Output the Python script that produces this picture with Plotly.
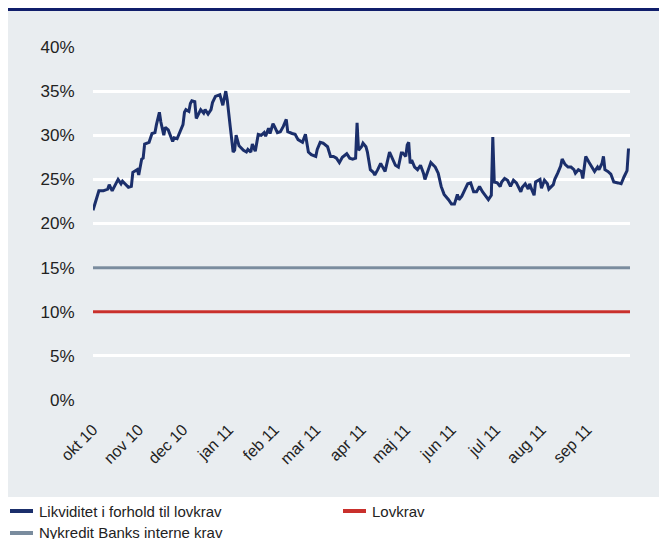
import plotly.graph_objects as go

dates = [
    "2010-10-01", "2010-10-05", "2010-10-08", "2010-10-11", "2010-10-12", "2010-10-14", "2010-10-18",
    "2010-10-20", "2010-10-21", "2010-10-25", "2010-10-27", "2010-10-28", "2010-10-31", "2010-11-01",
    "2010-11-03", "2010-11-04", "2010-11-05", "2010-11-08", "2010-11-10", "2010-11-12", "2010-11-13",
    "2010-11-15", "2010-11-16", "2010-11-18", "2010-11-19", "2010-11-21", "2010-11-24", "2010-11-25",
    "2010-11-27", "2010-11-29", "2010-11-30", "2010-12-01", "2010-12-02", "2010-12-03", "2010-12-05",
    "2010-12-06", "2010-12-07", "2010-12-09", "2010-12-10", "2010-12-13", "2010-12-15", "2010-12-16",
    "2010-12-18", "2010-12-20", "2010-12-21", "2010-12-23", "2010-12-26", "2010-12-28", "2010-12-30",
    "2010-12-31", "2011-01-02", "2011-01-04", "2011-01-05", "2011-01-06", "2011-01-08", "2011-01-09",
    "2011-01-11", "2011-01-13", "2011-01-14", "2011-01-16", "2011-01-17", "2011-01-19", "2011-01-21",
    "2011-01-23", "2011-01-25", "2011-01-26", "2011-01-28", "2011-01-29", "2011-01-31", "2011-02-01",
    "2011-02-03", "2011-02-05", "2011-02-07", "2011-02-09", "2011-02-10", "2011-02-13", "2011-02-15",
    "2011-02-17", "2011-02-18", "2011-02-20", "2011-02-22", "2011-02-24", "2011-02-26", "2011-03-01",
    "2011-03-02", "2011-03-04", "2011-03-06", "2011-03-09", "2011-03-11", "2011-03-13", "2011-03-15",
    "2011-03-17", "2011-03-19", "2011-03-22", "2011-03-24", "2011-03-26", "2011-03-28", "2011-03-29",
    "2011-03-30", "2011-04-01", "2011-04-02", "2011-04-04", "2011-04-05", "2011-04-07", "2011-04-09",
    "2011-04-10", "2011-04-12", "2011-04-14", "2011-04-15", "2011-04-17", "2011-04-20", "2011-04-22",
    "2011-04-24", "2011-04-26", "2011-04-28", "2011-04-29", "2011-05-01", "2011-05-02", "2011-05-03",
    "2011-05-04", "2011-05-05", "2011-05-07", "2011-05-09", "2011-05-11", "2011-05-13", "2011-05-14",
    "2011-05-17", "2011-05-18", "2011-05-21", "2011-05-23", "2011-05-25", "2011-05-27", "2011-05-30",
    "2011-06-01", "2011-06-03", "2011-06-05", "2011-06-06", "2011-06-08", "2011-06-10", "2011-06-12",
    "2011-06-14", "2011-06-16", "2011-06-18", "2011-06-20", "2011-06-22", "2011-06-24", "2011-06-26",
    "2011-06-28", "2011-06-29", "2011-06-30", "2011-07-02", "2011-07-04", "2011-07-05", "2011-07-07",
    "2011-07-09", "2011-07-11", "2011-07-13", "2011-07-15", "2011-07-18", "2011-07-19", "2011-07-21",
    "2011-07-23", "2011-07-24", "2011-07-25", "2011-07-27", "2011-07-28", "2011-07-31", "2011-08-01",
    "2011-08-03", "2011-08-05", "2011-08-06", "2011-08-09", "2011-08-10", "2011-08-12", "2011-08-14",
    "2011-08-15", "2011-08-17", "2011-08-19", "2011-08-21", "2011-08-23", "2011-08-24", "2011-08-26",
    "2011-08-28", "2011-08-29", "2011-08-31", "2011-09-02", "2011-09-04", "2011-09-06", "2011-09-08",
    "2011-09-09", "2011-09-11", "2011-09-12", "2011-09-13", "2011-09-15", "2011-09-17", "2011-09-19",
    "2011-09-22", "2011-09-24", "2011-09-26", "2011-09-28", "2011-09-29",
]

likviditet = [
    21.5, 23.7, 23.7, 23.9, 24.4, 23.7, 25.0,
    24.5, 24.8, 24.1, 24.2, 25.8, 26.1, 25.5,
    27.3, 27.4, 29.0, 29.2, 30.2, 30.3, 31.2,
    32.6, 31.5, 30.0, 30.9, 30.6, 29.3, 29.7,
    29.6, 30.4, 31.0, 31.2, 32.6, 32.9, 32.7,
    33.6, 33.9, 33.8, 31.9, 32.9, 32.5, 32.9,
    32.4, 32.9, 33.7, 34.4, 34.6, 33.4, 35.0,
    34.0, 31.0, 28.1, 28.3, 30.0, 28.8, 28.6,
    28.3, 28.1, 28.4, 28.1, 29.0, 28.2, 30.1,
    30.0, 30.3, 29.9, 30.8, 30.2, 31.3, 31.0,
    30.3, 30.4, 31.0, 31.8, 30.4, 30.2, 30.1,
    29.5, 29.4, 29.2, 30.1, 28.1, 27.8, 27.6,
    28.4, 29.2, 29.1, 28.7, 27.6, 27.6, 27.4,
    26.9, 27.5, 27.9, 27.4, 27.3, 27.4, 31.4,
    28.3, 28.7, 29.1, 28.7, 28.1, 26.1, 25.8,
    25.5, 26.1, 26.8, 26.5, 25.9, 28.1, 27.4,
    26.6, 26.4, 28.0, 28.0, 27.6, 28.9, 29.2,
    26.8, 27.2, 26.4, 26.1, 26.6, 25.7, 25.0,
    26.4, 26.9, 26.4, 25.7, 24.2, 23.3, 22.7,
    22.2, 22.2, 23.3, 22.7, 23.1, 23.8, 24.5,
    24.6, 23.6, 23.6, 24.2, 23.6, 23.1, 22.7,
    23.2, 29.8, 24.7, 24.6, 24.2, 24.7, 25.1,
    24.9, 24.2, 24.9, 24.6, 23.6, 24.1, 24.5,
    23.9, 24.5, 24.0, 23.2, 24.7, 25.0, 24.0,
    24.9, 24.5, 23.9, 24.4, 25.0, 25.7, 26.5,
    27.3, 26.7, 26.4, 26.4, 26.1, 25.7, 26.1,
    25.9, 25.1, 27.6, 27.0, 26.5, 25.9, 26.4,
    26.1, 26.8, 27.6, 26.1, 25.9, 25.6, 24.7,
    24.6, 24.5, 25.3, 26.0, 28.5,
]

ref_dates = ["2010-10-01", "2011-09-30"]
lovkrav = [10, 10]
interne_krav = [15, 15]

tick_dates = ["2010-10-01", "2010-11-01", "2010-12-01", "2011-01-01", "2011-02-01", "2011-03-01",
              "2011-04-01", "2011-05-01", "2011-06-01", "2011-07-01", "2011-08-01", "2011-09-01"]
tick_labels = ["okt 10", "nov 10", "dec 10", "jan 11", "feb 11", "mar 11",
               "apr 11", "maj 11", "jun 11", "jul 11", "aug 11", "sep 11"]
y_ticks = [0, 5, 10, 15, 20, 25, 30, 35, 40]
y_labels = [f"{v}%" for v in y_ticks]

series_names = ["Likviditet i forhold til lovkrav", "Lovkrav", "Nykredit Banks interne krav"]

NAVY = "#1b2f6b"
RED = "#c9302c"
SLATE = "#7a8c9e"
PANEL = "#e9edf0"
FONT = "Liberation Sans"
TEXT = "#222222"

fig = go.Figure()
fig.add_trace(go.Scatter(x=dates, y=likviditet, mode="lines", name=series_names[0],
                         line=dict(color=NAVY, width=3), showlegend=False))
fig.add_trace(go.Scatter(x=ref_dates, y=lovkrav, mode="lines", name=series_names[1],
                         line=dict(color=RED, width=3), showlegend=False))
fig.add_trace(go.Scatter(x=ref_dates, y=interne_krav, mode="lines", name=series_names[2],
                         line=dict(color=SLATE, width=3), showlegend=False))

# background panel and top rule
fig.add_shape(type="rect", xref="paper", yref="paper", x0=-0.1583, x1=1.09, y0=-0.2748, y1=1.102,
              fillcolor=PANEL, line=dict(width=0), layer="below")
fig.add_shape(type="rect", xref="paper", yref="paper", x0=-0.1583, x1=1.09, y0=1.102, y1=1.1105,
              fillcolor="#101e6b", line=dict(width=0), layer="below")

# legend drawn manually (keeps the panel geometry fixed)
legend_items = [
    (series_names[0], NAVY, -0.15456, -0.11173, -0.10428, -0.31445),
    (series_names[1], RED, 0.46555, 0.50838, 0.51583, -0.31445),
    (series_names[2], SLATE, -0.15456, -0.11173, -0.10428, -0.37677),
]
for name, color, sx0, sx1, tx, yy in legend_items:
    fig.add_shape(type="line", xref="paper", yref="paper", x0=sx0, x1=sx1, y0=yy, y1=yy,
                  line=dict(color=color, width=4))
    fig.add_annotation(xref="paper", yref="paper", x=tx, y=yy, text=name, showarrow=False,
                       xanchor="left", yanchor="middle",
                       font=dict(size=15, family=FONT, color=TEXT))

fig.update_layout(
    width=667, height=539,
    margin=dict(l=85, r=45, t=39, b=147),
    paper_bgcolor="white",
    plot_bgcolor="rgba(0,0,0,0)",
    font=dict(family=FONT, color=TEXT),
    showlegend=False,
    xaxis=dict(type="date", range=["2010-10-01", "2011-09-30"], tickvals=tick_dates, ticktext=tick_labels,
               tickangle=-45, showgrid=False, zeroline=False, showline=False,
               ticks="outside", ticklen=13, tickcolor="rgba(0,0,0,0)",
               tickfont=dict(size=16, family=FONT, color=TEXT)),
    yaxis=dict(range=[0, 40], tickvals=y_ticks, ticktext=y_labels, showgrid=True, gridcolor="white",
               gridwidth=3, zeroline=False, showline=False,
               ticks="outside", ticklen=14, tickcolor="rgba(0,0,0,0)",
               tickfont=dict(size=17, family=FONT, color=TEXT)),
)

fig.write_html("out.html")
